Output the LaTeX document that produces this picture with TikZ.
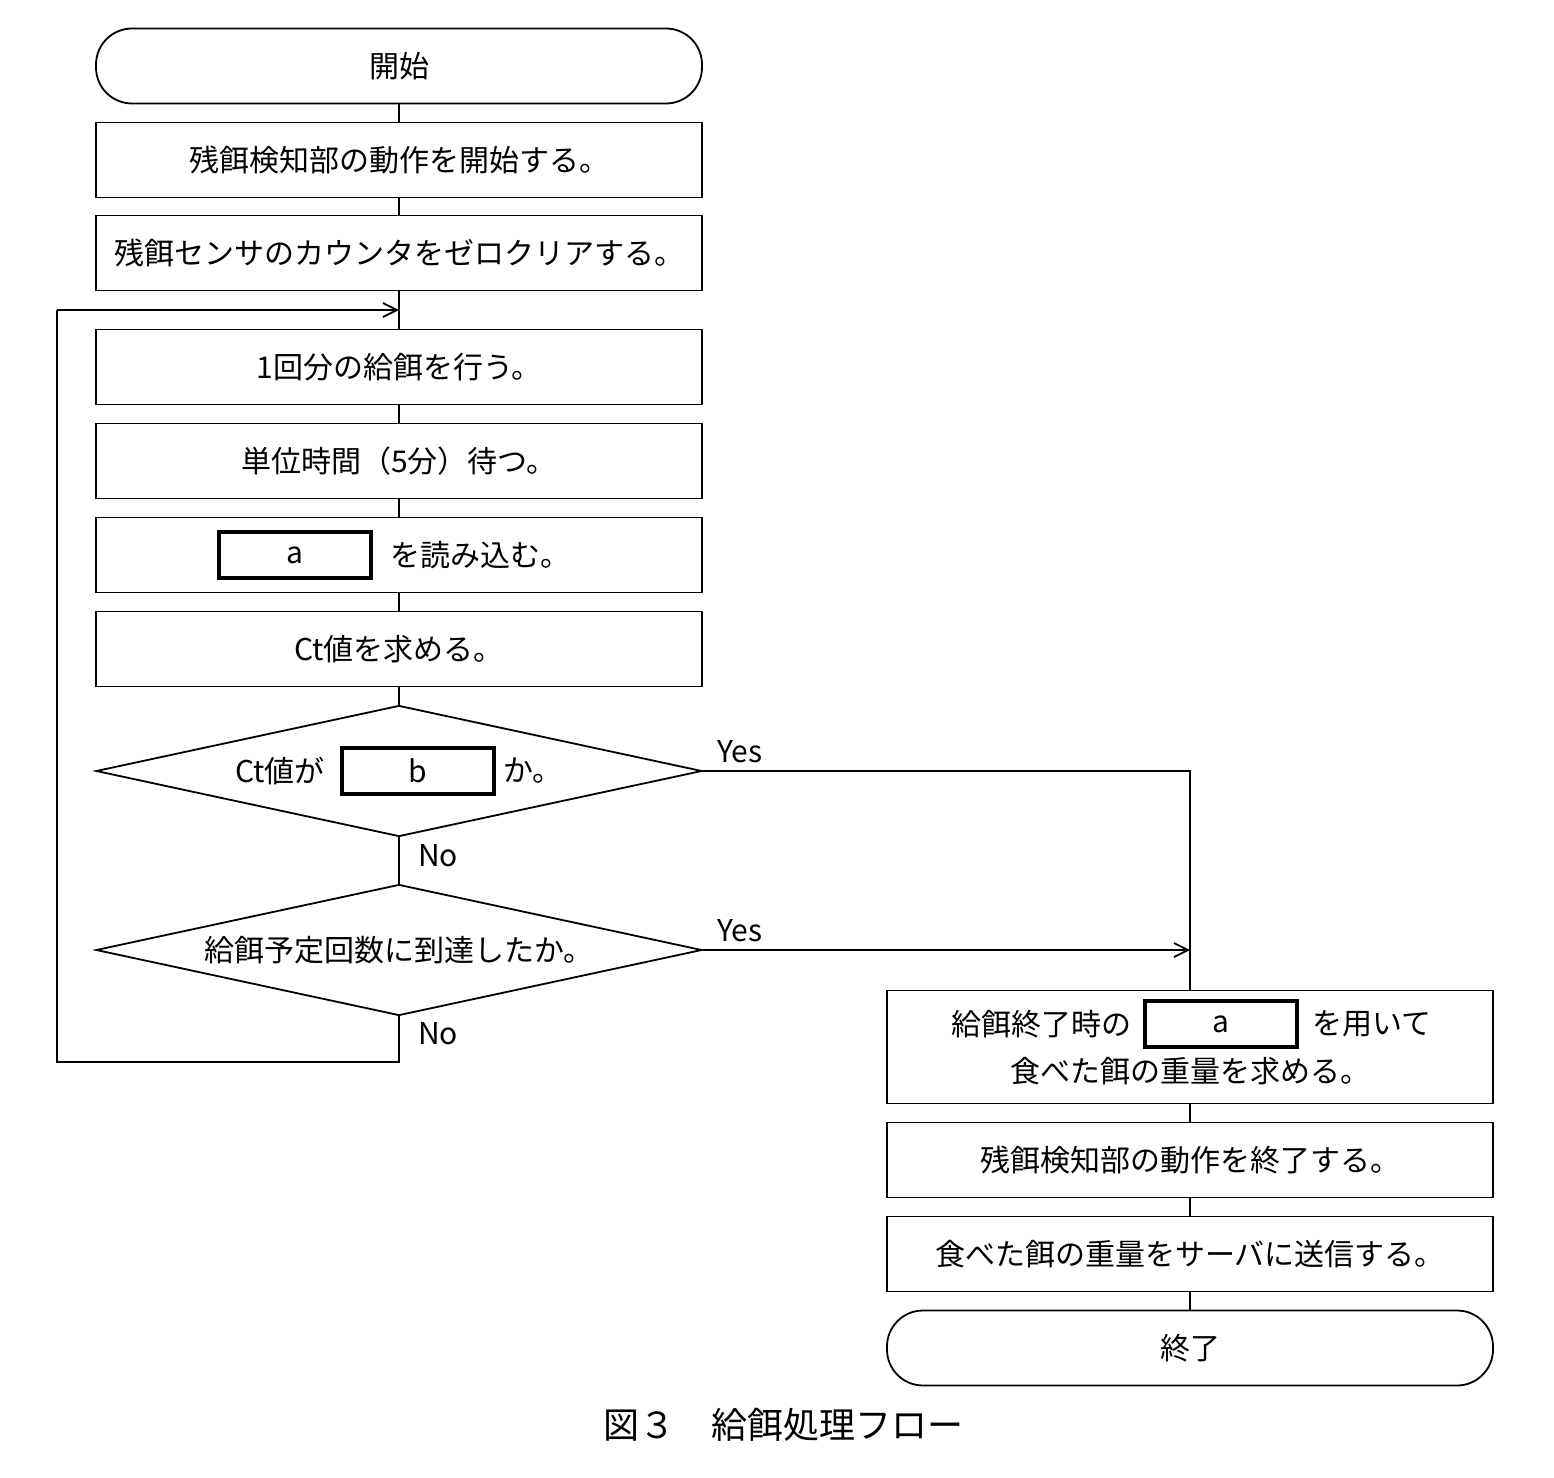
\documentclass[tikz,border=0pt]{standalone}
\usepackage{fontspec}
\setmainfont{Noto Sans CJK JP}
\usetikzlibrary{arrows.meta,shapes.geometric}
\begin{document}
\begin{tikzpicture}[x=0.5pt,y=-0.5pt,
  font=\fontsize{15}{19}\selectfont,
  box/.style={draw,line width=0.9pt,minimum width=303pt,minimum height=37.5pt,inner sep=0pt,align=center},
  term/.style={box,rounded corners=18pt},
  dia/.style={draw,line width=0.9pt,diamond,aspect=4.6,minimum width=303pt,minimum height=65.5pt,inner sep=0pt},
  blank/.style={draw,line width=1.8pt,minimum width=76pt,minimum height=23pt,inner sep=0pt},
  ln/.style={line width=0.9pt},
  arr/.style={ln,-{Straight Barb[length=7pt,width=7pt]}}]
\useasboundingbox (0,0) rectangle (1554,1478);
\node[term] (s) at (399,66) {開始};
\node[box] (b1) at (399,160) {残餌検知部の動作を開始する。};
\node[box] (b2) at (399,253) {残餌センサのカウンタをゼロクリアする。};
\node[box] (b3) at (399,367) {1回分の給餌を行う。};
\node[box] (b4) at (399,461) {単位時間（5分）待つ。};
\node[box] (b5) at (399,555) {};
\node[blank] (ba) at (295,555) {a};
\node[anchor=west] (t5) at (383,555) {を読み込む。};
\node[box] (b6) at (399,649) {Ct値を求める。};
\node[dia] (d1) at (399,771) {};
\node[blank] (bb) at (418,771) {b};
\node (t1a) at (280,771) {Ct値が};
\node (t1b) at (533,771) {か。};
\node[dia] (d2) at (399,950) {給餌予定回数に到達したか。};
\node[box,minimum height=56.5pt] (r1) at (1190,1047) {};
\node[blank] (ra) at (1221,1024) {a};
\node (r1a) at (1041,1024) {給餌終了時の};
\node (r1b) at (1372,1024) {を用いて};
\node (r1c) at (1190,1071) {食べた餌の重量を求める。};
\node[box] (r2) at (1190,1160) {残餌検知部の動作を終了する。};
\node[box] (r3) at (1190,1254) {食べた餌の重量をサーバに送信する。};
\node[term] (e) at (1190,1348) {終了};
\node (cap) at (783,1425) {\fontsize{18}{22}\selectfont 図３　給餌処理フロー};
\coordinate (m) at (399,310);
\draw[ln] (s)--(b1); \draw[ln] (b1)--(b2); \draw[ln] (b2)--(b3);
\draw[ln] (b3)--(b4); \draw[ln] (b4)--(b5); \draw[ln] (b5)--(b6);
\draw[ln] (b6)--(d1); \draw[ln] (d1)--(d2);
\draw[ln] (d1.east)--(1190,771)--(r1.north);
\draw[arr] (d2.east)--(1190,950);
\draw[ln] (d2.south)--(399,1062)--(57,1062)--(57,310);
\draw[arr] (57,310)--(m);
\draw[ln] (r1)--(r2); \draw[ln] (r2)--(r3); \draw[ln] (r3)--(e);
\node at (740,752) {Yes};
\node at (740,931) {Yes};
\node at (438,856) {No};
\node at (438,1034) {No};
\end{tikzpicture}
\end{document}
